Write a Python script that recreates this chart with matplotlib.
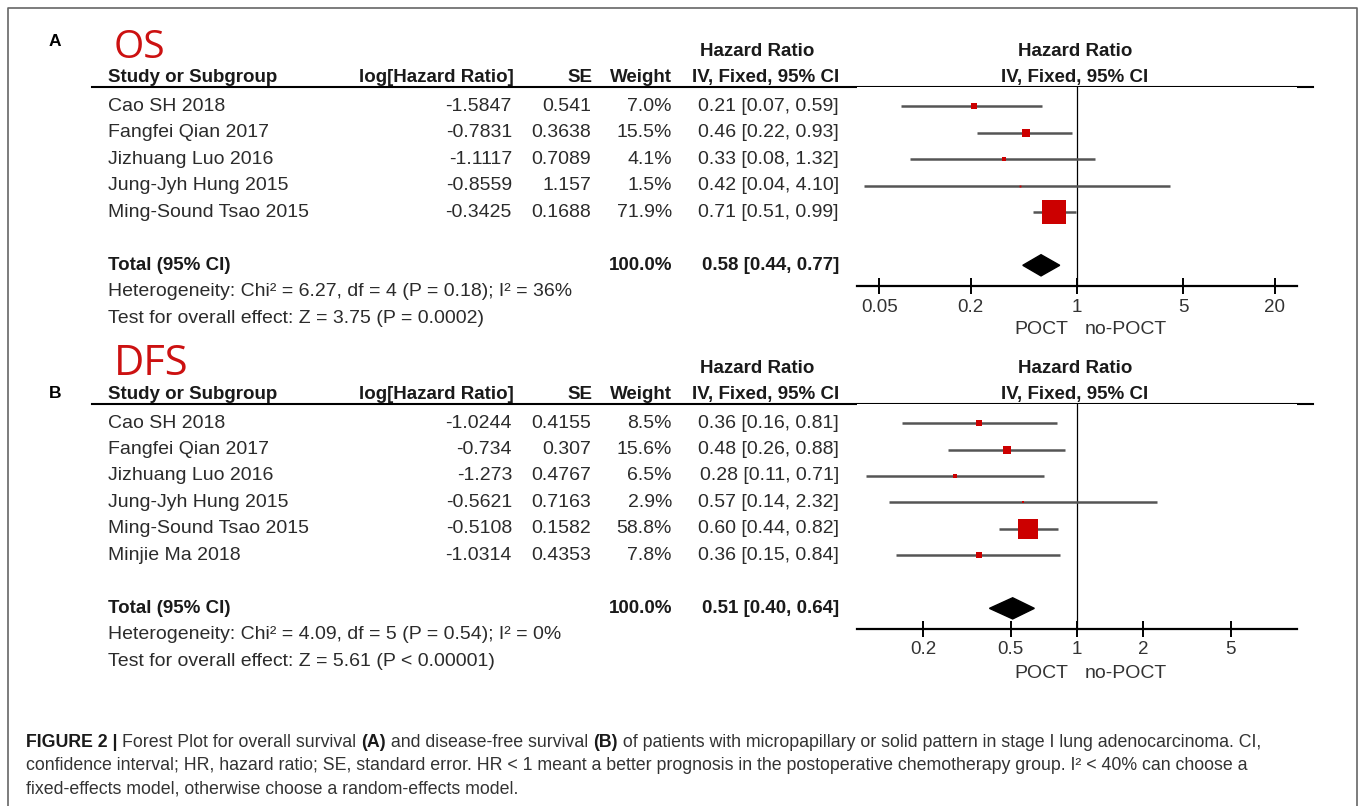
import matplotlib
matplotlib.use('Agg')
import matplotlib.pyplot as plt
from matplotlib.patches import Polygon
from matplotlib.transforms import blended_transform_factory

# ---- data: panel A (overall survival) ----
os_studies = ['Cao SH 2018', 'Fangfei Qian 2017', 'Jizhuang Luo 2016',
              'Jung-Jyh Hung 2015', 'Ming-Sound Tsao 2015']
os_log_hr = [-1.5847, -0.7831, -1.1117, -0.8559, -0.3425]
os_se = [0.541, 0.3638, 0.7089, 1.157, 0.1688]
os_weight = [7.0, 15.5, 4.1, 1.5, 71.9]
os_hr = [0.21, 0.46, 0.33, 0.42, 0.71]
os_lo = [0.07, 0.22, 0.08, 0.04, 0.51]
os_hi = [0.59, 0.93, 1.32, 4.10, 0.99]
os_total = [0.58, 0.44, 0.77]
os_total_weight = 100.0
os_het = 'Heterogeneity: Chi² = 6.27, df = 4 (P = 0.18); I² = 36%'
os_test = 'Test for overall effect: Z = 3.75 (P = 0.0002)'
os_ticks = [0.05, 0.2, 1, 5, 20]
os_tick_labels = ['0.05', '0.2', '1', '5', '20']

# ---- data: panel B (disease-free survival) ----
dfs_studies = ['Cao SH 2018', 'Fangfei Qian 2017', 'Jizhuang Luo 2016',
               'Jung-Jyh Hung 2015', 'Ming-Sound Tsao 2015', 'Minjie Ma 2018']
dfs_log_hr = [-1.0244, -0.734, -1.273, -0.5621, -0.5108, -1.0314]
dfs_se = [0.4155, 0.307, 0.4767, 0.7163, 0.1582, 0.4353]
dfs_weight = [8.5, 15.6, 6.5, 2.9, 58.8, 7.8]
dfs_hr = [0.36, 0.48, 0.28, 0.57, 0.60, 0.36]
dfs_lo = [0.16, 0.26, 0.11, 0.14, 0.44, 0.15]
dfs_hi = [0.81, 0.88, 0.71, 2.32, 0.82, 0.84]
dfs_total = [0.51, 0.40, 0.64]
dfs_total_weight = 100.0
dfs_het = 'Heterogeneity: Chi² = 4.09, df = 5 (P = 0.54); I² = 0%'
dfs_test = 'Test for overall effect: Z = 5.61 (P < 0.00001)'
dfs_ticks = [0.2, 0.5, 1, 2, 5]
dfs_tick_labels = ['0.2', '0.5', '1', '2', '5']

W, H = 1359, 806
FONT = ['Liberation Sans', 'DejaVu Sans']
TXT = '#2b2b2b'
plt.rcParams['font.family'] = FONT

fig = plt.figure(figsize=(W / 100, H / 100), dpi=100)
ax0 = fig.add_axes([0, 0, 1, 1])
ax0.set_xlim(0, W)
ax0.set_ylim(H, 0)
ax0.axis('off')

# outer frame
ax0.plot([8, 8, 1357, 1357], [H + 5, 8, 8, H + 5], color='#666666', lw=1.2)


def forest(n_label, title, title_size, studies, log_hr, se, weight, hr, lo, hi,
           total, total_weight, het, test, ticks, tick_labels, xlim, top_px, bottom_px,
           title_y, letter_y):
    n = len(studies)
    ax = fig.add_axes([857 / W, 1 - bottom_px / H, 440 / W, (bottom_px - top_px) / H])
    ax.set_xscale('log')
    ax.set_xlim(*xlim)
    ax.set_ylim(n + 1.78, -0.72)
    for s in ['top', 'right', 'left']:
        ax.spines[s].set_visible(False)
    ax.spines['bottom'].set_linewidth(1.6)
    ax.set_yticks([])
    ax.set_xticks(ticks)
    ax.set_xticklabels(tick_labels)
    ax.minorticks_off()
    ax.tick_params(axis='x', direction='inout', length=12, width=1.4, pad=3,
                   labelsize=13.5, labelcolor='#333333')
    ax.axvline(1, color='black', lw=0.9)

    # study rows
    for i in range(n):
        ax.plot([lo[i], hi[i]], [i, i], color='#555555', lw=1.8, solid_capstyle='butt')
        side = 29 * (weight[i] / 100) ** 0.65 * 0.72
        ax.plot(hr[i], i, marker='s', markersize=side, color='#cc0000', mec='#cc0000', mew=0)

    # pooled diamond
    yt = n + 1
    est, tlo, thi = total
    ax.add_patch(Polygon([(tlo, yt), (est, yt - 0.4), (thi, yt), (est, yt + 0.4)],
                         closed=True, color='black'))

    ax.annotate('POCT', xy=(1, 0), xycoords=('data', 'axes fraction'),
                xytext=(-9, -44), textcoords='offset pixels', ha='right', va='center',
                fontsize=14, color='#333333')
    ax.annotate('no-POCT', xy=(1, 0), xycoords=('data', 'axes fraction'),
                xytext=(8, -44), textcoords='offset pixels', ha='left', va='center',
                fontsize=14, color='#333333')

    tr = blended_transform_factory(ax0.transData, ax.transData)

    # headers
    hb = dict(transform=tr, fontsize=13.5, fontweight='bold', color='#1a1a1a', va='center')
    ax0.text(757, -2.05, 'Hazard Ratio', ha='center', **hb)
    ax0.text(1075, -2.05, 'Hazard Ratio', ha='center', **hb)
    ax0.text(108, -1.08, 'Study or Subgroup', ha='left', **hb)
    ax0.text(514, -1.08, 'log[Hazard Ratio]', ha='right', **hb)
    ax0.text(592, -1.08, 'SE', ha='right', **hb)
    ax0.text(672, -1.08, 'Weight', ha='right', **hb)
    ax0.text(839, -1.08, 'IV, Fixed, 95% CI', ha='right', **hb)
    ax0.text(1075, -1.08, 'IV, Fixed, 95% CI', ha='center', **hb)
    ax0.plot([92, 1313], [-0.72, -0.72], color='black', lw=1.5, transform=tr)

    rt = dict(transform=tr, fontsize=14, color=TXT, va='center')
    for i in range(n):
        ax0.text(108, i, studies[i], ha='left', **rt)
        ax0.text(512, i, f'{log_hr[i]:g}', ha='right', **rt)
        ax0.text(591, i, f'{se[i]:g}', ha='right', **rt)
        ax0.text(672, i, f'{weight[i]:.1f}%', ha='right', **rt)
        ax0.text(839, i, f'{hr[i]:.2f} [{lo[i]:.2f}, {hi[i]:.2f}]', ha='right', **rt)

    tb = dict(transform=tr, fontsize=13.5, fontweight='bold', color='#1a1a1a', va='center')
    ax0.text(108, yt, 'Total (95% CI)', ha='left', **tb)
    ax0.text(672, yt, f'{total_weight:.1f}%', ha='right', **tb)
    ax0.text(839, yt, f'{est:.2f} [{tlo:.2f}, {thi:.2f}]', ha='right', **tb)
    ax0.text(108, n + 2, het, ha='left', **rt)
    ax0.text(108, n + 3, test, ha='left', **rt)

    ax0.text(55, letter_y, n_label, ha='center', va='center', fontsize=12.5,
             fontweight='bold', color='black')
    ax0.text(114, title_y, title, ha='left', va='center', fontsize=title_size,
             color='#cc1111', family=['Open Sans', 'DejaVu Sans'])


forest('A', 'OS', 28, os_studies, os_log_hr, os_se, os_weight, os_hr, os_lo, os_hi,
       os_total, os_total_weight, os_het, os_test, os_ticks, os_tick_labels,
       (1 / 28, 28), 87, 286, 48, 42)
forest('B', 'DFS', 30, dfs_studies, dfs_log_hr, dfs_se, dfs_weight, dfs_hr, dfs_lo, dfs_hi,
       dfs_total, dfs_total_weight, dfs_het, dfs_test, dfs_ticks, dfs_tick_labels,
       (0.1, 10), 404, 629, 364, 393)

# caption with bold segments
caption = [
    [('FIGURE 2 | ', 'bold'), ('Forest Plot for overall survival ', 'normal'), ('(A)', 'bold'),
     (' and disease-free survival ', 'normal'), ('(B)', 'bold'),
     (' of patients with micropapillary or solid pattern in stage I lung adenocarcinoma. CI,', 'normal')],
    [('confidence interval; HR, hazard ratio; SE, standard error. HR < 1 meant a better prognosis '
      'in the postoperative chemotherapy group. I² < 40% can choose a', 'normal')],
    [('fixed-effects model, otherwise choose a random-effects model.', 'normal')],
]
renderer = fig.canvas.get_renderer()
for k, line in enumerate(caption):
    x = 26
    y = 747 + k * 23.5
    for seg, wt in line:
        t = ax0.text(x, y, seg, ha='left', va='baseline', fontsize=12.8, fontweight=wt,
                     color='#1a1a1a' if wt == 'bold' else '#333333')
        bb = t.get_window_extent(renderer=renderer)
        x += bb.width

fig.savefig('out.png', dpi=100)
